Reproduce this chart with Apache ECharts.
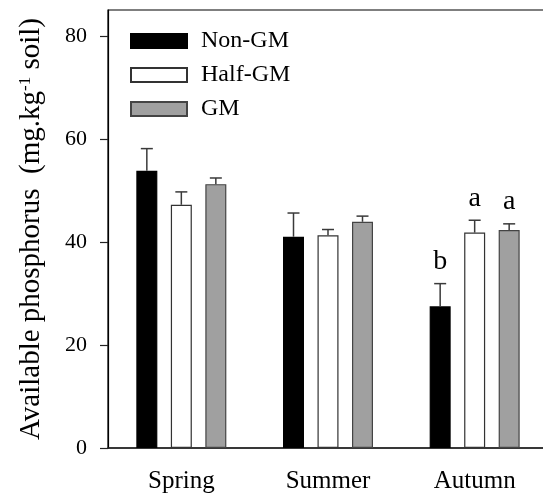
<!DOCTYPE html>
<html>
<head>
<meta charset="utf-8">
<script src="https://cdn.jsdelivr.net/npm/echarts@6/dist/echarts.min.js"></script>
<style>
  html, body { margin: 0; padding: 0; background: #fff; }
  #chart { width: 543px; height: 496px; }
</style>
</head>
<body>
<div id="chart"></div>
<script>
// Available phosphorus by season and green-manure treatment
const seasons = ['Spring', 'Summer', 'Autumn'];
const seriesNames = ['Non-GM', 'Half-GM', 'GM'];
const nonGM = [53.8, 41.0, 27.5];
const halfGM = [47.2, 41.3, 41.8];
const gm = [51.2, 43.9, 42.3];
const nonGMErr = [4.3, 4.6, 4.4];
const halfGMErr = [2.5, 1.1, 2.4];
const gmErr = [1.2, 1.1, 1.2];
const nonGMSig = ['', '', 'b'];
const halfGMSig = ['', '', 'a'];
const gmSig = ['', '', 'a'];
const yTicks = [0, 20, 40, 60, 80];

const FONT = '"Liberation Serif", "Times New Roman", serif';
const BAR_W = 21;
const BAR_GAP = 13.5;

const fills = ['#000000', '#ffffff', '#a0a0a0'];
const borders = ['#000000', '#333333', '#444444'];
const means = [nonGM, halfGM, gm];
const errs = [nonGMErr, halfGMErr, gmErr];
const sigs = [nonGMSig, halfGMSig, gmSig];

const barSeries = seriesNames.map((name, i) => ({
  name: name,
  type: 'bar',
  data: means[i],
  barWidth: BAR_W,
  barGap: (BAR_GAP / BAR_W * 100) + '%',
  itemStyle: { color: fills[i], borderColor: borders[i], borderWidth: 1.2 },
  z: 2
}));

// Upper error bars plus significance letters, aligned to each bar's slot
const errSeries = seriesNames.map((name, i) => ({
  name: name + ' err',
  type: 'custom',
  z: 3,
  data: means[i].map((m, k) => [k, m, errs[i][k]]),
  renderItem: function (params, api) {
    const k = api.value(0);
    const m = api.value(1);
    const e = api.value(2);
    const letter = sigs[i][k];
    const offset = (i - 1) * (BAR_W + BAR_GAP);
    const base = api.coord([k, m]);
    const top = api.coord([k, m + e]);
    const x = base[0] + offset;
    const capHalf = 6;
    const style = { stroke: '#3a3a3a', lineWidth: 1.5 };
    const children = [
      { type: 'line', shape: { x1: x, y1: base[1], x2: x, y2: top[1] }, style: style },
      { type: 'line', shape: { x1: x - capHalf, y1: top[1], x2: x + capHalf, y2: top[1] }, style: style }
    ];
    if (letter) {
      children.push({
        type: 'text',
        style: {
          text: letter, x: x, y: top[1] - 8,
          align: 'center', verticalAlign: 'bottom',
          font: '28px ' + FONT, fill: '#000'
        }
      });
    }
    return { type: 'group', children: children };
  }
}));

const chart = echarts.init(document.getElementById('chart'), null, { renderer: 'canvas' });
chart.setOption({
  animation: false,
  backgroundColor: '#fff',
  grid: {
    left: 108, top: 10, height: 438, width: 440,
    outerBoundsMode: 'none',
    containLabel: false,
    show: true, borderColor: '#000', borderWidth: 1.2, backgroundColor: 'transparent'
  },
  legend: {
    data: seriesNames,
    orient: 'vertical',
    left: 125, top: 24,
    icon: 'rect',
    itemWidth: 56, itemHeight: 14, itemGap: 10,
    textStyle: { fontFamily: FONT, fontSize: 24, color: '#000', padding: [0, 0, 0, 9] }
  },
  xAxis: {
    type: 'category',
    data: seasons,
    axisLine: { lineStyle: { color: '#222', width: 1.5 } },
    axisTick: { alignWithLabel: true, length: 7, lineStyle: { color: '#222', width: 1.2 } },
    axisLabel: { fontFamily: FONT, fontSize: 25, color: '#000', margin: 21 }
  },
  yAxis: {
    type: 'value',
    min: 0, max: 85, interval: 20,
    name: '{t|Available phosphorus  (mg.kg}{s|-1}{t| soil)}',
    nameLocation: 'middle',
    nameGap: 62,
    nameTextStyle: {
      rich: {
        t: { fontFamily: FONT, fontSize: 29, color: '#000' },
        s: { fontFamily: FONT, fontSize: 17, color: '#000', verticalAlign: 'top', padding: [0, 0, 12, 0] }
      }
    },
    splitLine: { show: false },
    axisLine: { show: true, lineStyle: { color: '#000', width: 1.2 } },
    axisTick: { show: true, length: 8, customValues: yTicks, lineStyle: { color: '#222', width: 1.2 } },
    axisLabel: { fontFamily: FONT, fontSize: 22, color: '#000', margin: 21, customValues: yTicks }
  },
  series: barSeries.concat(errSeries)
});
</script>
</body>
</html>
